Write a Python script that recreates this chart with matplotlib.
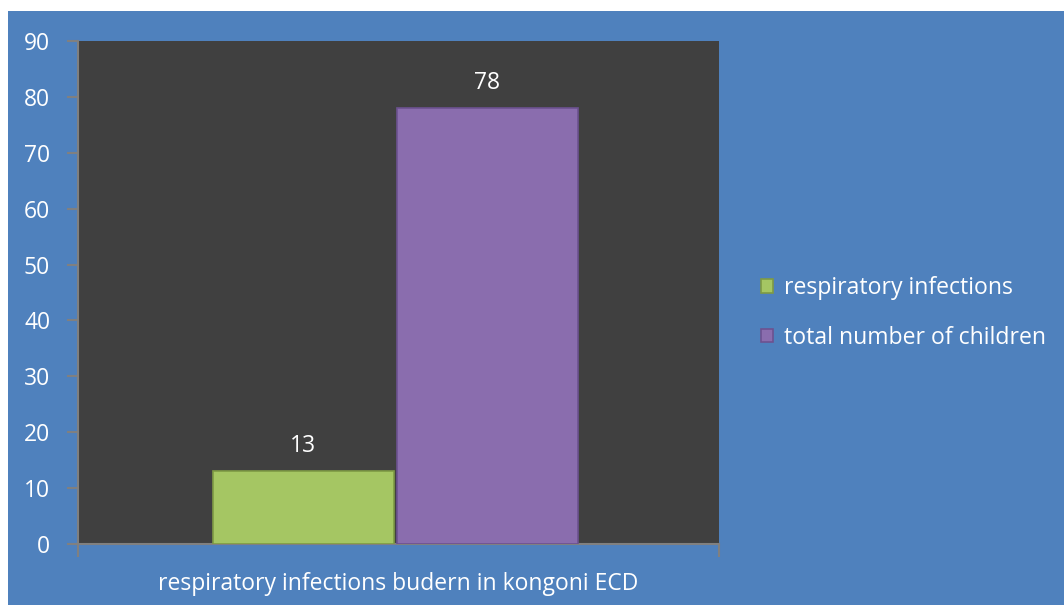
import matplotlib
matplotlib.use("Agg")
import matplotlib.pyplot as plt
from matplotlib.patches import Rectangle

category = "respiratory infections budern in kongoni ECD"
series = ["respiratory infections", "total number of children"]
values = [13, 78]
colors = ["#A5C663", "#8A6DAE"]
edge_colors = ["#7E9A44", "#6C5290"]
yticks = [0, 10, 20, 30, 40, 50, 60, 70, 80, 90]

plt.rcParams['font.family'] = ['Open Sans', 'DejaVu Sans']
FS = 16.5

W, H = 1064, 605
fig = plt.figure(figsize=(W/100, H/100), dpi=100, facecolor="white")
fig.patches.append(Rectangle((8/W, 0), 1 - 8/W, 1 - 11/H, transform=fig.transFigure,
                             facecolor="#4F81BD", edgecolor="none", zorder=-10))

ax = fig.add_axes([78/W, 61/H, (719-78)/W, (544-41)/H])
ax.set_facecolor("#404040")

center = -0.005
offsets = [center - 0.1435, center + 0.1435]
width = 0.282
handles = []
for off, v, c, ec, name in zip(offsets, values, colors, edge_colors, series):
    b = ax.bar(off, v, width=width, color=c, edgecolor=ec, linewidth=1.2, label=name, zorder=3)
    handles.append(b)
    ax.text(off, v + 2.3, str(v), ha="center", va="bottom", color="white", fontsize=FS)

ax.set_xlim(-0.5, 0.5)
ax.set_ylim(0, 90)
ax.set_yticks(yticks)
ax.set_yticklabels([str(t) for t in yticks], color="white", fontsize=FS)
ax.set_xticks([-0.5, 0.5])
ax.set_xticklabels(["", ""])
ax.tick_params(axis="y", length=8, width=1.5, color="#808080", pad=12)
ax.tick_params(axis="x", length=9, width=1.5, color="#808080")
for s in ["top", "right"]:
    ax.spines[s].set_visible(False)
for s in ["left", "bottom"]:
    ax.spines[s].set_color("#808080")
    ax.spines[s].set_linewidth(1.5)
ax.set_xlabel(category, color="white", fontsize=FS, labelpad=8)

leg = fig.legend(handles=handles, labels=series, loc="center left",
                 bbox_to_anchor=(740/W, 1 - 313/H), frameon=False,
                 fontsize=16.6, labelcolor="white", handlelength=0.55, handleheight=0.55,
                 handletextpad=0.45, labelspacing=1.1)

fig.savefig("out.png", dpi=100, facecolor="white")
